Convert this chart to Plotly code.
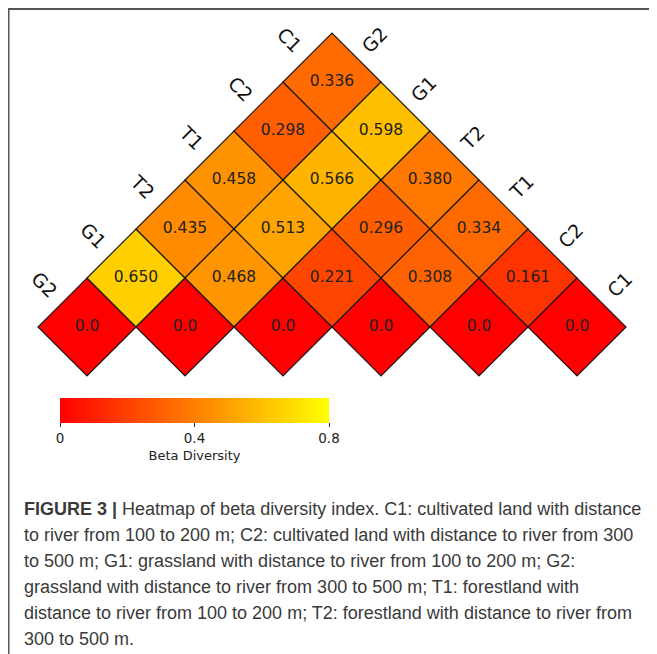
import plotly.graph_objects as go

# ---------------- data ----------------
labels = ["G2", "G1", "T2", "T1", "C2", "C1"]
# lower-triangular beta diversity matrix (row i vs column j, j <= i)
beta_G2 = [0.0]
beta_G1 = [0.650, 0.0]
beta_T2 = [0.435, 0.468, 0.0]
beta_T1 = [0.458, 0.513, 0.221, 0.0]
beta_C2 = [0.298, 0.566, 0.296, 0.308, 0.0]
beta_C1 = [0.336, 0.598, 0.380, 0.334, 0.161, 0.0]
beta = [beta_G2, beta_G1, beta_T2, beta_T1, beta_C2, beta_C1]

cbar_tickvals = [0, 0.4, 0.8]
cbar_ticktext = ["0", "0.4", "0.8"]
cbar_title = "Beta Diversity"

caption_lines = [
    "<b>FIGURE 3 |</b> Heatmap of beta diversity index. C1: cultivated land with distance",
    "to river from 100 to 200 m; C2: cultivated land with distance to river from 300",
    "to 500 m; G1: grassland with distance to river from 100 to 200 m; G2:",
    "grassland with distance to river from 300 to 500 m; T1: forestland with",
    "distance to river from 100 to 200 m; T2: forestland with distance to river from",
    "300 to 500 m.",
]

# ---------------- layout constants ----------------
PAGE = 8                  # browser default body margin
W, H = 657 - PAGE, 654 - PAGE
CELL = 98.0               # px per cell diagonal
X0, Y0 = 87.0 - PAGE, 327.0 - PAGE   # px of first diagonal cell centre


def px_x(p):
    return (p - PAGE) / W


def px_y(p):
    return 1 - (p - PAGE) / H


xs, ys, zs, ts = [], [], [], []
for i, row in enumerate(beta):
    for j, val in enumerate(row):
        xs.append((i + j) / 2)
        ys.append((i - j) / 2)
        zs.append(val)
        ts.append("0.0" if i == j else f"{val:.3f}")

fig = go.Figure(
    go.Scatter(
        x=xs, y=ys, mode="markers+text", text=ts,
        textposition="middle center",
        textfont=dict(family="DejaVu Sans", size=15.5, color="#222222"),
        marker=dict(
            symbol="diamond", size=75.4, color=zs, cmin=0, cmax=0.8,
            colorscale=[[0, "rgb(255,0,0)"], [1, "rgb(255,255,0)"]],
            line=dict(color="#1a1a1a", width=1.2),
            colorbar=dict(
                orientation="h", thickness=25, thicknessmode="pixels",
                len=269 / W, lenmode="fraction",
                x=px_x(60), xanchor="left", y=px_y(398), yanchor="top",
                xpad=0, ypad=0, outlinewidth=0,
                tickvals=cbar_tickvals, ticktext=cbar_ticktext,
                ticks="outside", ticklen=4, tickcolor="#333333",
                tickfont=dict(family="DejaVu Sans", size=13.5, color="#222222"),
                title=dict(text=cbar_title, side="bottom",
                           font=dict(family="DejaVu Sans", size=13, color="#222222")),
            ),
        ),
        hoverinfo="skip", showlegend=False, cliponaxis=False,
    )
)

OFF = 0.43
annotations = []
n = len(labels)
for k, lab in enumerate(labels):
    annotations.append(dict(x=k / 2 - OFF, y=k / 2 + OFF, xref="x", yref="y", text=lab,
                            showarrow=False, textangle=45,
                            font=dict(family="DejaVu Sans", size=19, color="#111111")))
    annotations.append(dict(x=(n - 1 + k) / 2 + OFF, y=(n - 1 - k) / 2 + OFF, xref="x", yref="y",
                            text=lab, showarrow=False, textangle=-45,
                            font=dict(family="DejaVu Sans", size=19, color="#111111")))

for m, line in enumerate(caption_lines):
    yc = 509 + 26 * m
    annotations.append(dict(x=px_x(22), y=px_y(yc), xref="paper", yref="paper",
                            xanchor="left", yanchor="middle", text=line, showarrow=False,
                            font=dict(family="Liberation Sans", size=18, color="#3a3a3a")))

fig.update_layout(
    width=W, height=H, autosize=False,
    margin=dict(l=0, r=0, t=0, b=0),
    paper_bgcolor="white", plot_bgcolor="white",
    xaxis=dict(range=[-X0 / CELL, (W - X0) / CELL], visible=False, fixedrange=True),
    yaxis=dict(range=[-(H - Y0) / CELL, Y0 / CELL], visible=False, fixedrange=True),
    annotations=annotations,
    shapes=[
        dict(type="line", xref="paper", yref="paper", x0=0, y0=1 - 1 / H, x1=1, y1=1 - 1 / H,
             line=dict(color="#555555", width=2)),
        dict(type="line", xref="paper", yref="paper", x0=0.5 / W, y0=1, x1=0.5 / W, y1=0,
             line=dict(color="#555555", width=2)),
    ],
)

fig.write_html("out.html")
